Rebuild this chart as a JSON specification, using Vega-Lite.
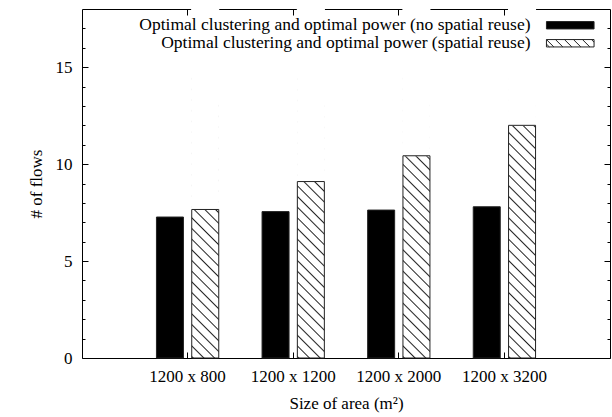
{
  "$schema": "https://vega.github.io/schema/vega-lite/v6.json",
  "width": 528,
  "height": 349,
  "autosize": {"type": "none"},
  "padding": {"left": 82, "top": 9, "right": 2, "bottom": 59},
  "background": "white",
  "config": {
    "font": "Liberation Serif",
    "view": {"stroke": null},
    "axis": {"labelFont": "Liberation Serif", "labelFontSize": 17, "labelColor": "#000", "titleFont": "Liberation Serif", "titleFontSize": 17, "titleFontWeight": "normal", "titleColor": "#000", "domainColor": "#000", "domainWidth": 1, "tickColor": "#000", "tickWidth": 1, "grid": false, "zindex": 1},
    "legend": {"labelFont": "Liberation Serif", "labelFontSize": 17.5, "labelColor": "#000"}
  },
  "data": {"values": [
    {"size": "1200 x 800", "series": "Optimal clustering and optimal power (no spatial reuse)", "value": 7.27},
    {"size": "1200 x 1200", "series": "Optimal clustering and optimal power (no spatial reuse)", "value": 7.55},
    {"size": "1200 x 2000", "series": "Optimal clustering and optimal power (no spatial reuse)", "value": 7.63},
    {"size": "1200 x 3200", "series": "Optimal clustering and optimal power (no spatial reuse)", "value": 7.8},
    {"size": "1200 x 800", "series": "Optimal clustering and optimal power (spatial reuse)", "value": 7.66},
    {"size": "1200 x 1200", "series": "Optimal clustering and optimal power (spatial reuse)", "value": 9.1},
    {"size": "1200 x 2000", "series": "Optimal clustering and optimal power (spatial reuse)", "value": 10.43},
    {"size": "1200 x 3200", "series": "Optimal clustering and optimal power (spatial reuse)", "value": 12.0}
  ]},
  "resolve": {"axis": {"x": "independent", "y": "independent"}},
  "layer": [
    {
      "transform": [{"filter": "datum.series === 'Optimal clustering and optimal power (spatial reuse)'"}],
      "mark": {"type": "bar", "fill": {"gradient": "linear", "x1": 0, "y1": 1, "x2": 0.0784, "y2": -0.0137, "stops": [
        {"offset": 0, "color": "#fff"}, {"offset": 0.004, "color": "#222"}, {"offset": 0.008, "color": "#fff"},
        {"offset": 0.03, "color": "#fff"}, {"offset": 0.034, "color": "#222"}, {"offset": 0.038, "color": "#fff"},
        {"offset": 0.06, "color": "#fff"}, {"offset": 0.064, "color": "#222"}, {"offset": 0.068, "color": "#fff"},
        {"offset": 0.09, "color": "#fff"}, {"offset": 0.094, "color": "#222"}, {"offset": 0.098, "color": "#fff"},
        {"offset": 0.12, "color": "#fff"}, {"offset": 0.124, "color": "#222"}, {"offset": 0.128, "color": "#fff"},
        {"offset": 0.15, "color": "#fff"}, {"offset": 0.154, "color": "#222"}, {"offset": 0.158, "color": "#fff"},
        {"offset": 0.18, "color": "#fff"}, {"offset": 0.184, "color": "#222"}, {"offset": 0.188, "color": "#fff"},
        {"offset": 0.21, "color": "#fff"}, {"offset": 0.214, "color": "#222"}, {"offset": 0.218, "color": "#fff"},
        {"offset": 0.24, "color": "#fff"}, {"offset": 0.244, "color": "#222"}, {"offset": 0.248, "color": "#fff"},
        {"offset": 0.27, "color": "#fff"}, {"offset": 0.274, "color": "#222"}, {"offset": 0.278, "color": "#fff"},
        {"offset": 0.3, "color": "#fff"}, {"offset": 0.304, "color": "#222"}, {"offset": 0.308, "color": "#fff"},
        {"offset": 0.33, "color": "#fff"}, {"offset": 0.334, "color": "#222"}, {"offset": 0.338, "color": "#fff"},
        {"offset": 0.36, "color": "#fff"}, {"offset": 0.364, "color": "#222"}, {"offset": 0.368, "color": "#fff"},
        {"offset": 0.39, "color": "#fff"}, {"offset": 0.394, "color": "#222"}, {"offset": 0.398, "color": "#fff"},
        {"offset": 0.42, "color": "#fff"}, {"offset": 0.424, "color": "#222"}, {"offset": 0.428, "color": "#fff"},
        {"offset": 0.45, "color": "#fff"}, {"offset": 0.454, "color": "#222"}, {"offset": 0.458, "color": "#fff"},
        {"offset": 0.48, "color": "#fff"}, {"offset": 0.484, "color": "#222"}, {"offset": 0.488, "color": "#fff"},
        {"offset": 0.51, "color": "#fff"}, {"offset": 0.514, "color": "#222"}, {"offset": 0.518, "color": "#fff"},
        {"offset": 0.54, "color": "#fff"}, {"offset": 0.544, "color": "#222"}, {"offset": 0.548, "color": "#fff"},
        {"offset": 0.57, "color": "#fff"}, {"offset": 0.574, "color": "#222"}, {"offset": 0.578, "color": "#fff"},
        {"offset": 0.6, "color": "#fff"}, {"offset": 0.604, "color": "#222"}, {"offset": 0.608, "color": "#fff"},
        {"offset": 0.63, "color": "#fff"}, {"offset": 0.634, "color": "#222"}, {"offset": 0.638, "color": "#fff"},
        {"offset": 0.66, "color": "#fff"}, {"offset": 0.664, "color": "#222"}, {"offset": 0.668, "color": "#fff"},
        {"offset": 0.69, "color": "#fff"}, {"offset": 0.694, "color": "#222"}, {"offset": 0.698, "color": "#fff"},
        {"offset": 0.72, "color": "#fff"}, {"offset": 0.724, "color": "#222"}, {"offset": 0.728, "color": "#fff"},
        {"offset": 0.75, "color": "#fff"}, {"offset": 0.754, "color": "#222"}, {"offset": 0.758, "color": "#fff"},
        {"offset": 0.78, "color": "#fff"}, {"offset": 0.784, "color": "#222"}, {"offset": 0.788, "color": "#fff"},
        {"offset": 1, "color": "#fff"}
      ]}},
      "encoding": {
        "x": {"field": "size", "type": "nominal", "sort": ["1200 x 800", "1200 x 1200", "1200 x 2000", "1200 x 3200"], "scale": {"domain": ["1200 x 800", "1200 x 1200", "1200 x 2000", "1200 x 3200"], "paddingInner": 0.41, "paddingOuter": 0.705}, "axis": null},
        "xOffset": {"field": "series", "type": "nominal", "scale": {"domain": ["Optimal clustering and optimal power (no spatial reuse)", "Optimal clustering and optimal power (spatial reuse)"], "paddingInner": 0.235, "paddingOuter": 0}},
        "y": {"datum": 18, "type": "quantitative", "scale": {"domain": [0, 18], "nice": false}, "axis": null}
      }
    },
    {
      "transform": [{"filter": "datum.series === 'Optimal clustering and optimal power (spatial reuse)'"}],
      "mark": {"type": "bar", "fill": "#fff", "stroke": "#fff", "strokeWidth": 1},
      "encoding": {
        "x": {"field": "size", "type": "nominal", "sort": ["1200 x 800", "1200 x 1200", "1200 x 2000", "1200 x 3200"], "axis": null},
        "xOffset": {"field": "series", "type": "nominal"},
        "y": {"field": "value", "type": "quantitative", "axis": null},
        "y2": {"datum": 18}
      }
    },
    {
      "transform": [{"filter": "datum.series === 'Optimal clustering and optimal power (no spatial reuse)'"}],
      "mark": {"type": "bar", "stroke": "#222", "strokeWidth": 1},
      "encoding": {
        "x": {"field": "size", "type": "nominal", "sort": ["1200 x 800", "1200 x 1200", "1200 x 2000", "1200 x 3200"], "axis": {"orient": "bottom", "title": "Size of area (m²)", "tickSize": -6, "labelPadding": 16, "titlePadding": 11, "labelAngle": 0, "bandPosition": 0.5}},
        "xOffset": {"field": "series", "type": "nominal"},
        "y": {"field": "value", "type": "quantitative", "axis": {"orient": "left", "title": "# of flows", "values": [0, 1, 2, 3, 4, 5, 6, 7, 8, 9, 10, 11, 12, 13, 14, 15, 16, 17], "labelExpr": "datum.value % 5 === 0 ? datum.label : ''", "tickSize": {"condition": {"test": "datum.value % 5 === 0", "value": -6}, "value": -3}, "labelPadding": 16, "titlePadding": 10}},
        "fill": {"field": "series", "type": "nominal", "scale": {"domain": ["Optimal clustering and optimal power (no spatial reuse)"], "range": ["#000"]},
          "legend": {"orient": "none", "legendX": 479.5, "legendY": 7.5, "title": null, "padding": 0, "symbolType": "M-4.76,-0.74L4.76,-0.74L4.76,0.74L-4.76,0.74Z", "symbolSize": 100, "symbolStrokeColor": "#222", "symbolStrokeWidth": 1, "labelAlign": "right", "labelOffset": -48.5, "labelLimit": 600,
            "encode": {"symbols": {"update": {"stroke": {"value": "#222"}, "strokeWidth": {"value": 1}, "opacity": {"value": 1}}}}
          }
        }
      }
    },
    {
      "transform": [{"filter": "datum.series === 'Optimal clustering and optimal power (spatial reuse)'"}],
      "mark": {"type": "bar", "fill": "transparent", "strokeWidth": 1},
      "encoding": {
        "x": {"field": "size", "type": "nominal", "sort": ["1200 x 800", "1200 x 1200", "1200 x 2000", "1200 x 3200"], "axis": {"orient": "top", "title": null, "labels": false, "tickSize": -6, "bandPosition": 0.5}},
        "xOffset": {"field": "series", "type": "nominal"},
        "y": {"field": "value", "type": "quantitative", "axis": {"orient": "right", "title": null, "labels": false, "values": [0, 1, 2, 3, 4, 5, 6, 7, 8, 9, 10, 11, 12, 13, 14, 15, 16, 17], "tickSize": {"condition": {"test": "datum.value % 5 === 0", "value": -6}, "value": -3}}},
        "stroke": {"field": "series", "type": "nominal", "scale": {"domain": ["Optimal clustering and optimal power (spatial reuse)"], "range": ["#222"]},
          "legend": {"orient": "none", "legendX": 479.5, "legendY": 25.5, "title": null, "padding": 0, "symbolType": "M-4.76,-0.74L4.76,-0.74L4.76,0.74L-4.76,0.74Z M-4.76,0.16L-4.18,0.74 M-4.76,-0.74L-3.28,0.74 M-2.96,-0.74L-1.48,0.74 M-1.16,-0.74L0.32,0.74 M0.64,-0.74L2.12,0.74 M2.44,-0.74L3.92,0.74 M4.24,-0.74L4.76,-0.22", "symbolSize": 100, "symbolStrokeWidth": 1, "labelAlign": "right", "labelOffset": -48.5, "labelLimit": 600,
            "encode": {"symbols": {"update": {"fill": {"value": "#fff"}, "fillOpacity": {"value": 1}, "stroke": {"value": "#222"}, "strokeWidth": {"value": 1}, "strokeOpacity": {"value": 1}, "opacity": {"value": 1}}}}
          }
        }
      }
    }
  ]
}
